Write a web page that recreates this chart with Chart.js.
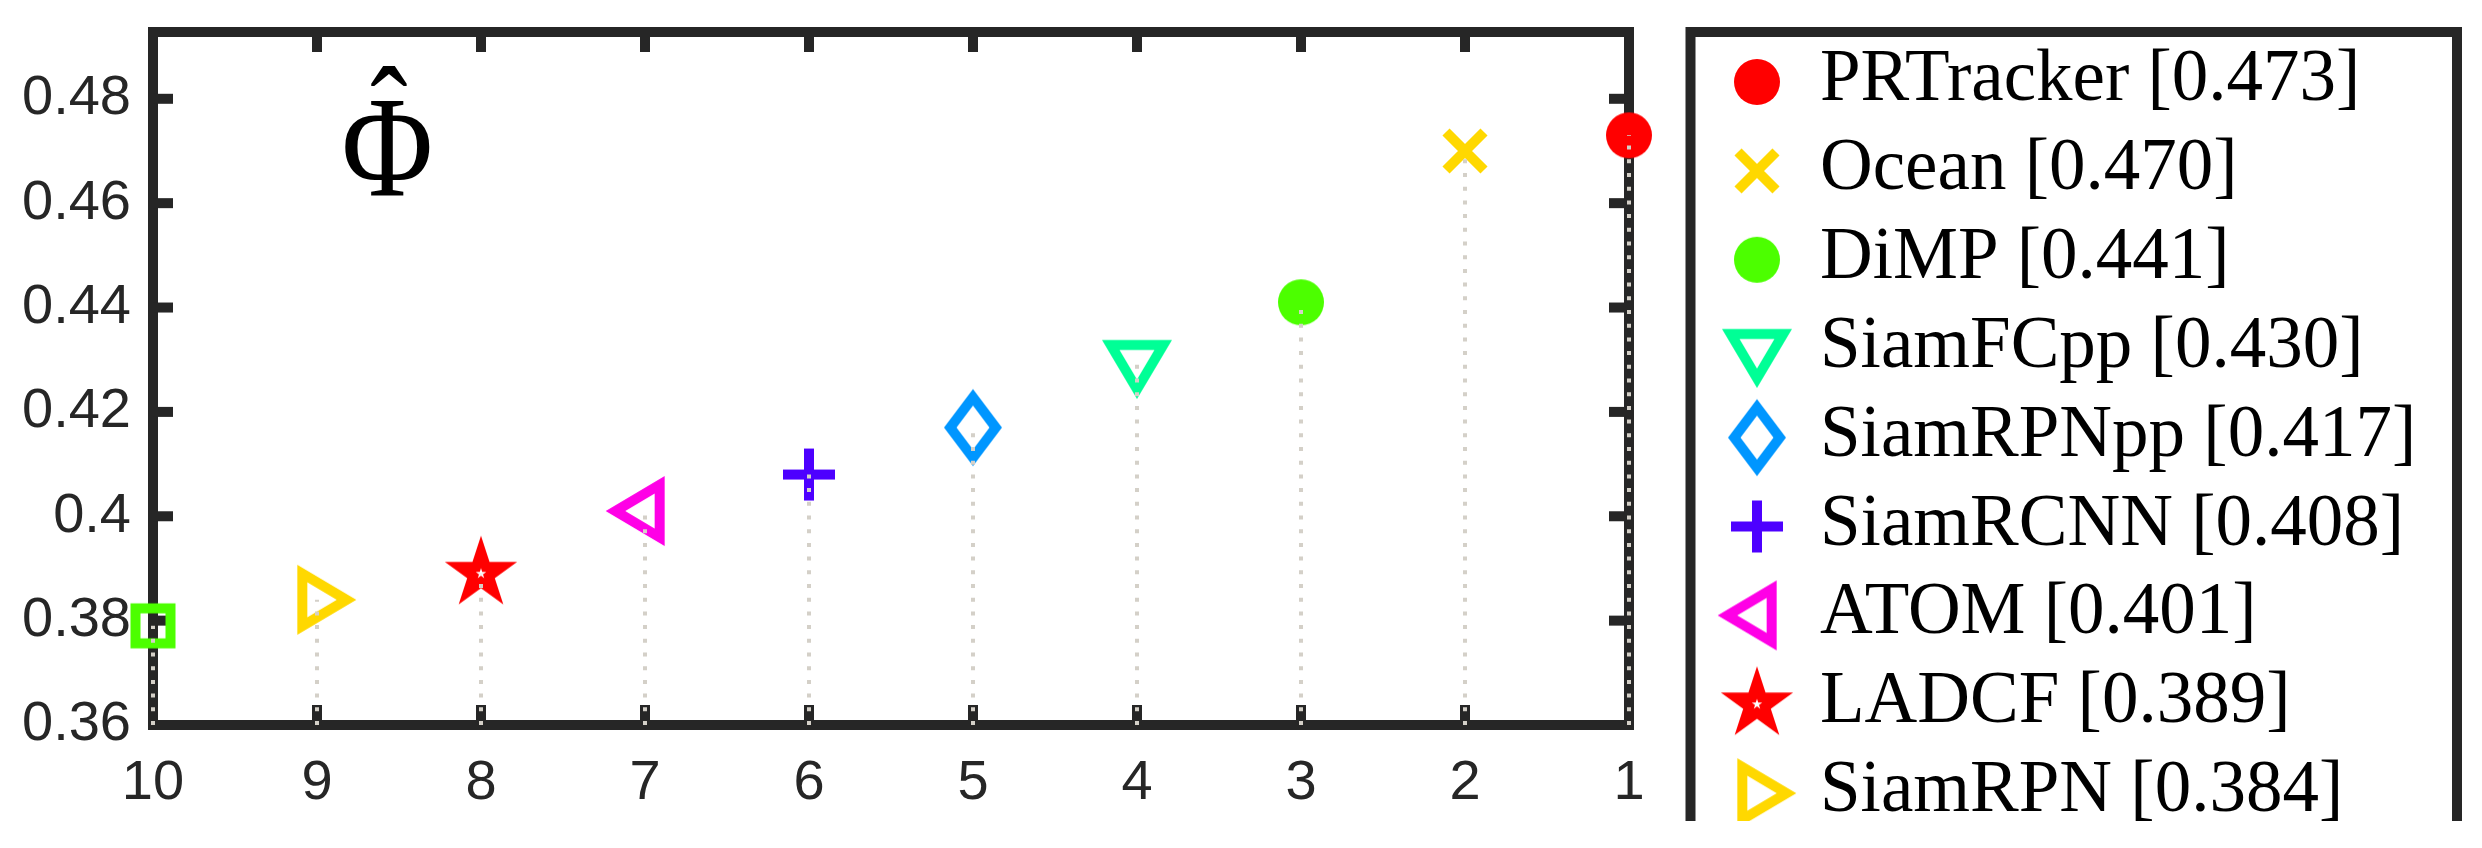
<!DOCTYPE html>
<html>
<head>
<meta charset="utf-8">
<script src="https://cdn.jsdelivr.net/npm/chart.js@4.4.1/dist/chart.umd.min.js"></script>
<style>
  html, body { margin: 0; padding: 0; background: #fff; }
  canvas { display: block; }
</style>
</head>
<body>
<canvas id="chart" width="2482" height="848"></canvas>
<script>
const trackers = ['PRTracker', 'Ocean', 'DiMP', 'SiamFCpp', 'SiamRPNpp', 'SiamRCNN', 'ATOM', 'LADCF', 'SiamRPN', 'SiamMask'];
const ranks = [1, 2, 3, 4, 5, 6, 7, 8, 9, 10];
const scores = [0.473, 0.470, 0.441, 0.430, 0.417, 0.408, 0.401, 0.389, 0.384, 0.379];
const markers = ['circle', 'x', 'circle', 'triDown', 'diamond', 'plus', 'triLeft', 'star', 'triRight', 'square'];
const colours = ['#ff0000', '#ffd800', '#4cff00', '#00ff96', '#0096ff', '#4d00ff', '#ff00e6', '#ff0000', '#ffd800', '#4cff00'];
const xTicks = [10, 9, 8, 7, 6, 5, 4, 3, 2, 1];
const yTicks = [0.36, 0.38, 0.40, 0.42, 0.44, 0.46, 0.48];
const yMin = 0.36;
const yMax = 0.4928;

const axisColour = '#262626';
const stemColour = '#d4d0c8';

// outline shape: outer polygon minus the same polygon pulled in by t (about its incentre)
function ring(g, pts, t) {
    let per = 0, cx = 0, cy = 0;
    const n = pts.length;
    if (n === 3) {
        const side = (a, b) => Math.hypot(a[0] - b[0], a[1] - b[1]);
        const la = side(pts[1], pts[2]), lb = side(pts[0], pts[2]), lc = side(pts[0], pts[1]);
        per = la + lb + lc;
        cx = (la * pts[0][0] + lb * pts[1][0] + lc * pts[2][0]) / per;
        cy = (la * pts[0][1] + lb * pts[1][1] + lc * pts[2][1]) / per;
    } else {
        pts.forEach(p => { cx += p[0] / n; cy += p[1] / n; });
    }
    const [p0, p1] = [pts[0], pts[1]];
    const ex = p1[0] - p0[0], ey = p1[1] - p0[1];
    const r = Math.abs(ex * (p0[1] - cy) - ey * (p0[0] - cx)) / Math.hypot(ex, ey);
    const s = (r - t) / r;
    g.beginPath();
    pts.forEach((p, i) => i ? g.lineTo(p[0], p[1]) : g.moveTo(p[0], p[1]));
    g.closePath();
    pts.forEach((p, i) => {
        const x = cx + (p[0] - cx) * s, y = cy + (p[1] - cy) * s;
        i ? g.lineTo(x, y) : g.moveTo(x, y);
    });
    g.closePath();
    g.fill('evenodd');
}

function starPath(g, R, r) {
    g.beginPath();
    for (let k = 0; k < 10; k++) {
        const a = -Math.PI / 2 + k * Math.PI / 5;
        const rad = k % 2 ? r : R;
        k ? g.lineTo(rad * Math.cos(a), rad * Math.sin(a)) : g.moveTo(rad * Math.cos(a), rad * Math.sin(a));
    }
    g.closePath();
    g.fill();
}

function triangle(g, angle) {
    const b = 70, h = 59;
    g.rotate(angle * Math.PI / 180);
    ring(g, [[0, -2 * h / 3], [b / 2, h / 3], [-b / 2, h / 3]], 10);
}

function makeMarker(kind, colour) {
    const c = document.createElement('canvas');
    c.width = 100;
    c.height = 100;
    const g = c.getContext('2d');
    g.translate(50, 50);
    g.fillStyle = colour;
    g.strokeStyle = colour;
    if (kind === 'circle') {
        g.beginPath();
        g.arc(0, 0, 23, 0, Math.PI * 2);
        g.fill();
    } else if (kind === 'x') {
        g.lineWidth = 10;
        g.beginPath();
        g.moveTo(-19, -19); g.lineTo(19, 19);
        g.moveTo(19, -19); g.lineTo(-19, 19);
        g.stroke();
    } else if (kind === 'plus') {
        g.fillRect(-26, -5, 52, 10);
        g.fillRect(-5, -26, 10, 52);
    } else if (kind === 'square') {
        ring(g, [[-22.5, -22.5], [22.5, -22.5], [22.5, 22.5], [-22.5, 22.5]], 10);
    } else if (kind === 'diamond') {
        ring(g, [[0, -38.5], [29, 0], [0, 38.5], [-29, 0]], 10);
    } else if (kind === 'triDown') {
        triangle(g, 180);
    } else if (kind === 'triLeft') {
        triangle(g, -90);
    } else if (kind === 'triRight') {
        triangle(g, 90);
    } else if (kind === 'star') {
        starPath(g, 38, 38 * 0.382);
        g.fillStyle = '#ffffff';
        starPath(g, 5.5, 5.5 * 0.382);
    }
    return c;
}

const markerImgs = markers.map((m, i) => makeMarker(m, colours[i]));

// stretch a piece of text into a given ink box
function fitText(ctx, str, font, x0, y0, x1, y1) {
    ctx.font = font;
    const m = ctx.measureText(str);
    const w = m.actualBoundingBoxLeft + m.actualBoundingBoxRight;
    const h = m.actualBoundingBoxAscent + m.actualBoundingBoxDescent;
    ctx.save();
    ctx.translate(x0, y0);
    ctx.scale((x1 - x0) / w, (y1 - y0) / h);
    ctx.textAlign = 'left';
    ctx.textBaseline = 'alphabetic';
    ctx.fillText(str, m.actualBoundingBoxLeft, m.actualBoundingBoxAscent);
    ctx.restore();
}

const frame = {
    id: 'frame',
    beforeDatasetsDraw(chart) {
        const { ctx, chartArea: a, scales: { x, y } } = chart;
        ctx.save();
        ctx.strokeStyle = axisColour;
        ctx.fillStyle = axisColour;
        ctx.lineWidth = 10;
        ctx.strokeRect(a.left, a.top, a.right - a.left, a.bottom - a.top);
        for (const t of x.ticks) {
            const px = x.getPixelForValue(t.value);
            ctx.fillRect(px - 5, a.bottom - 20, 10, 20);
            ctx.fillRect(px - 5, a.top, 10, 20);
        }
        for (const t of y.ticks) {
            const py = y.getPixelForValue(t.value);
            ctx.fillRect(a.left, py - 5, 20, 10);
            ctx.fillRect(a.right - 20, py - 5, 20, 10);
        }
        // \hat{\Phi} label
        ctx.fillStyle = '#000';
        fitText(ctx, 'Φ', '140px "Liberation Serif"', a.left + 192, a.top + 70, a.left + 277, a.top + 164);
        fitText(ctx, 'ˆ', '140px "Liberation Serif"', a.left + 218, a.top + 34, a.left + 254, a.top + 54);
        ctx.restore();
    },
};

const legendBox = {
    id: 'legendBox',
    afterDraw(chart) {
        const { ctx, chartArea: a } = chart;
        ctx.save();
        ctx.beginPath();
        ctx.rect(0, 0, chart.width, 821);
        ctx.clip();
        const left = a.right + 61.5;
        const right = a.right + 828;
        ctx.strokeStyle = axisColour;
        ctx.lineWidth = 10;
        ctx.strokeRect(left, a.top, right - left, 900);
        ctx.fillStyle = '#000';
        ctx.font = '73px "Liberation Serif"';
        ctx.textAlign = 'left';
        ctx.textBaseline = 'alphabetic';
        trackers.forEach((name, i) => {
            const cy = a.top + 50 + 88.9 * i;
            ctx.drawImage(markerImgs[i], a.right + 128 - 50, cy - 50);
            ctx.fillText(name + ' [' + scores[i].toFixed(3) + ']', a.right + 191, cy + 18);
        });
        ctx.restore();
    },
};

const stemSets = ranks.map((r, i) => ({
    type: 'line',
    data: [{ x: r, y: yMin }, { x: r, y: scores[i] }],
    borderColor: stemColour,
    borderWidth: 4,
    borderDash: [4, 9.7],
    pointRadius: 0,
    fill: false,
    clip: false,
    order: 0,
}));

const markerSets = ranks.map((r, i) => ({
    type: 'scatter',
    label: trackers[i],
    data: [{ x: r, y: scores[i] }],
    pointStyle: markerImgs[i],
    pointRadius: 25,
    clip: false,
    order: 1,
}));

const tickFont = { family: 'Liberation Sans', size: 56 };

new Chart(document.getElementById('chart'), {
    type: 'scatter',
    data: { datasets: [...stemSets, ...markerSets] },
    options: {
        responsive: false,
        animation: false,
        events: [],
        layout: { padding: { top: 32, right: 853, left: 0, bottom: 0 } },
        plugins: {
            legend: { display: false },
            tooltip: { enabled: false },
        },
        scales: {
            x: {
                type: 'linear',
                reverse: true,
                min: 1,
                max: 10,
                afterBuildTicks: s => { s.ticks = xTicks.map(v => ({ value: v })); },
                afterFit: s => {
                    s.height = 123;
                    s.paddingLeft = 0;
                    s.paddingRight = 0;
                },
                grid: { display: false, drawTicks: false },
                border: { display: false },
                ticks: {
                    padding: 25,
                    color: axisColour,
                    font: tickFont,
                    autoSkip: false,
                    maxRotation: 0,
                    callback: v => String(v),
                },
            },
            y: {
                type: 'linear',
                min: yMin,
                max: yMax,
                afterBuildTicks: s => { s.ticks = yTicks.map(v => ({ value: v })); },
                afterFit: s => {
                    s.width = 153;
                    s.paddingTop = 0;
                    s.paddingBottom = 0;
                },
                grid: { display: false, drawTicks: false },
                border: { display: false },
                ticks: {
                    padding: 22,
                    color: axisColour,
                    font: tickFont,
                    callback: v => String(+v.toFixed(2)),
                },
            },
        },
    },
    plugins: [frame, legendBox],
});
</script>
</body>
</html>
